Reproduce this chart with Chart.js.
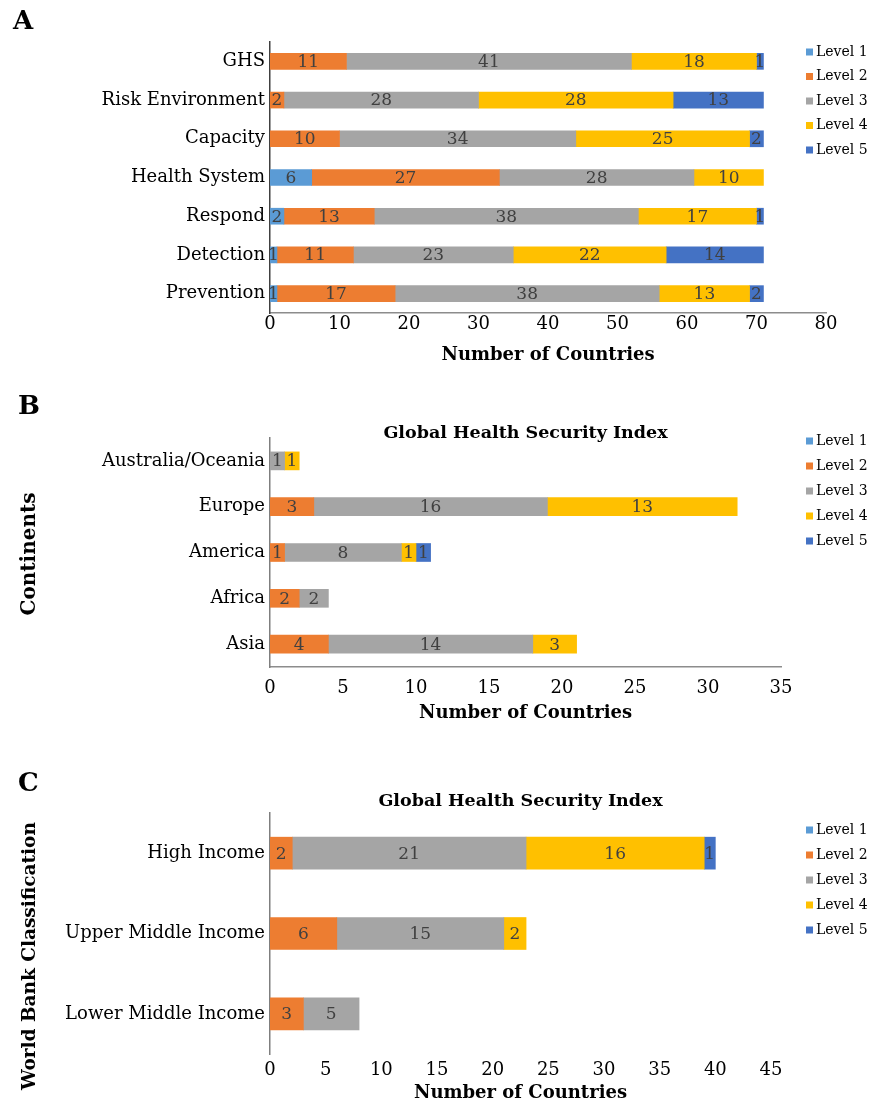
<!DOCTYPE html>
<html>
<head>
<meta charset="utf-8">
<script src="https://cdn.jsdelivr.net/npm/chart.js@4.4.1/dist/chart.umd.min.js"></script>
<style>
  body { margin: 0; background: #fff; }
  #wrap { position: relative; width: 871px; height: 1104px; }
  canvas { position: absolute; left: 0; }
</style>
</head>
<body>
<div id="wrap">
  <canvas id="chartA" width="871" height="372" style="top:0px"></canvas>
  <canvas id="chartB" width="871" height="353" style="top:372px"></canvas>
  <canvas id="chartC" width="871" height="379" style="top:725px"></canvas>
</div>
<script>
// Levels shared by all three panels
const levels = ['Level 1', 'Level 2', 'Level 3', 'Level 4', 'Level 5'];
const levelColors = ['#5B9BD5', '#ED7D31', '#A5A5A5', '#FFC000', '#4472C4'];

// A: GHS index and its domains
const domainLabels = ['GHS', 'Risk Environment', 'Capacity', 'Health System', 'Respond', 'Detection', 'Prevention'];
const domainL1 = [0, 0, 0, 6, 2, 1, 1];
const domainL2 = [11, 2, 10, 27, 13, 11, 17];
const domainL3 = [41, 28, 34, 28, 38, 23, 38];
const domainL4 = [18, 28, 25, 10, 17, 22, 13];
const domainL5 = [1, 13, 2, 0, 1, 14, 2];

// B: by continent
const continentLabels = ['Australia/Oceania', 'Europe', 'America', 'Africa', 'Asia'];
const continentL1 = [0, 0, 0, 0, 0];
const continentL2 = [0, 3, 1, 2, 4];
const continentL3 = [1, 16, 8, 2, 14];
const continentL4 = [1, 13, 1, 0, 3];
const continentL5 = [0, 0, 1, 0, 0];

// C: by World Bank income group
const incomeLabels = ['High Income', 'Upper Middle Income', 'Lower Middle Income'];
const incomeL1 = [0, 0, 0];
const incomeL2 = [2, 6, 3];
const incomeL3 = [21, 15, 5];
const incomeL4 = [16, 2, 0];
const incomeL5 = [1, 0, 0];

const SERIF = '"DejaVu Serif", serif';
Chart.defaults.font.family = SERIF;
Chart.defaults.color = '#000';

// draws value labels, panel letter, title, y-axis title and legend
const panelDecor = {
  id: 'panelDecor',
  afterDatasetsDraw(chart, args, opts) {
    const ctx = chart.ctx;
    const area = chart.chartArea;
    ctx.save();

    ctx.font = '17px ' + SERIF;
    ctx.fillStyle = '#404040';
    ctx.textAlign = 'center';
    ctx.textBaseline = 'middle';
    chart.data.datasets.forEach((ds, i) => {
      chart.getDatasetMeta(i).data.forEach((bar, j) => {
        const v = ds.data[j];
        if (!v) return;
        const p = bar.getCenterPoint();
        ctx.fillText(v, p.x, p.y + 1);
      });
    });

    ctx.fillStyle = '#000';
    ctx.font = 'bold 26px ' + SERIF;
    ctx.textAlign = 'left';
    ctx.fillText(opts.letter, opts.letterX, opts.letterY);

    if (opts.title) {
      ctx.font = 'bold 17.5px ' + SERIF;
      ctx.textAlign = 'center';
      ctx.fillText(opts.title, (area.left + area.right) / 2, opts.titleY);
    }

    if (opts.yTitle) {
      ctx.save();
      ctx.translate(opts.yTitleX, opts.yTitleY);
      ctx.rotate(-Math.PI / 2);
      ctx.font = 'bold ' + opts.yTitleSize + 'px ' + SERIF;
      ctx.textAlign = 'center';
      ctx.fillText(opts.yTitle, 0, 0);
      ctx.restore();
    }

    ctx.font = '14px ' + SERIF;
    ctx.textAlign = 'left';
    levels.forEach((lv, i) => {
      const y = opts.legendY + i * opts.legendGap;
      ctx.fillStyle = levelColors[i];
      ctx.fillRect(opts.legendX, y - 3.5, 7, 7);
      ctx.fillStyle = '#000';
      ctx.fillText(lv, opts.legendX + 10, y);
    });
    ctx.restore();
  }
};

function makePanel(id, labels, series, cfg) {
  const datasets = series.map((vals, i) => ({
    label: levels[i],
    data: vals.map(v => v || null),
    backgroundColor: levelColors[i],
    barThickness: cfg.barThickness
  }));
  return new Chart(document.getElementById(id), {
    type: 'bar',
    data: { labels: labels, datasets: datasets },
    plugins: [panelDecor],
    options: {
      responsive: false,
      animation: false,
      indexAxis: 'y',
      layout: { padding: { left: 0, right: cfg.padRight, top: cfg.padTop, bottom: 0 } },
      scales: {
        x: {
          stacked: true,
          min: 0,
          max: cfg.max,
          ticks: { stepSize: cfg.step, padding: cfg.tickPad, font: { size: 18 }, color: '#000' },
          grid: { display: false, drawTicks: false },
          border: { display: cfg.xLine, color: '#8c8c8c', width: 1.5 },
          title: {
            display: true,
            text: 'Number of Countries',
            font: { size: 18, weight: 'bold' },
            padding: { top: 0, bottom: cfg.xTitlePad }
          },
          afterFit: s => { s.height = cfg.xHeight; }
        },
        y: {
          stacked: true,
          ticks: { padding: 5, font: { size: 18 }, color: '#000' },
          grid: { display: false, drawTicks: false },
          border: { display: true, color: cfg.yLineColor, width: 1.5 },
          afterFit: s => { s.width = 270; }
        }
      },
      plugins: {
        legend: { display: false },
        tooltip: { enabled: false },
        panelDecor: cfg.decor
      }
    }
  });
}

makePanel('chartA', domainLabels, [domainL1, domainL2, domainL3, domainL4, domainL5], {
  barThickness: 16, padRight: 45, padTop: 42, max: 80, step: 10,
  xLine: true, xHeight: 59, tickPad: 1, xTitlePad: 6, yLineColor: '#404040',
  decor: { letter: 'A', letterX: 13, letterY: 22,
           legendX: 806, legendY: 52, legendGap: 24.5 }
});

makePanel('chartB', continentLabels, [continentL1, continentL2, continentL3, continentL4, continentL5], {
  barThickness: 18, padRight: 90, padTop: 66, max: 35, step: 5,
  xLine: true, xHeight: 58, tickPad: 11, xTitlePad: 1, yLineColor: '#7f7f7f',
  decor: { letter: 'B', letterX: 18, letterY: 35, title: 'Global Health Security Index', titleY: 61,
           yTitle: 'Continents', yTitleSize: 20, yTitleX: 30, yTitleY: 182,
           legendX: 806, legendY: 69, legendGap: 25 }
});

makePanel('chartC', incomeLabels, [incomeL1, incomeL2, incomeL3, incomeL4, incomeL5], {
  barThickness: 32, padRight: 100, padTop: 88, max: 45, step: 5,
  xLine: false, xHeight: 50, tickPad: 6, xTitlePad: 0, yLineColor: '#7f7f7f',
  decor: { letter: 'C', letterX: 18, letterY: 59, title: 'Global Health Security Index', titleY: 76,
           yTitle: 'World Bank Classification', yTitleSize: 18.5, yTitleX: 30, yTitleY: 231,
           legendX: 806, legendY: 105, legendGap: 25 }
});
</script>
</body>
</html>
